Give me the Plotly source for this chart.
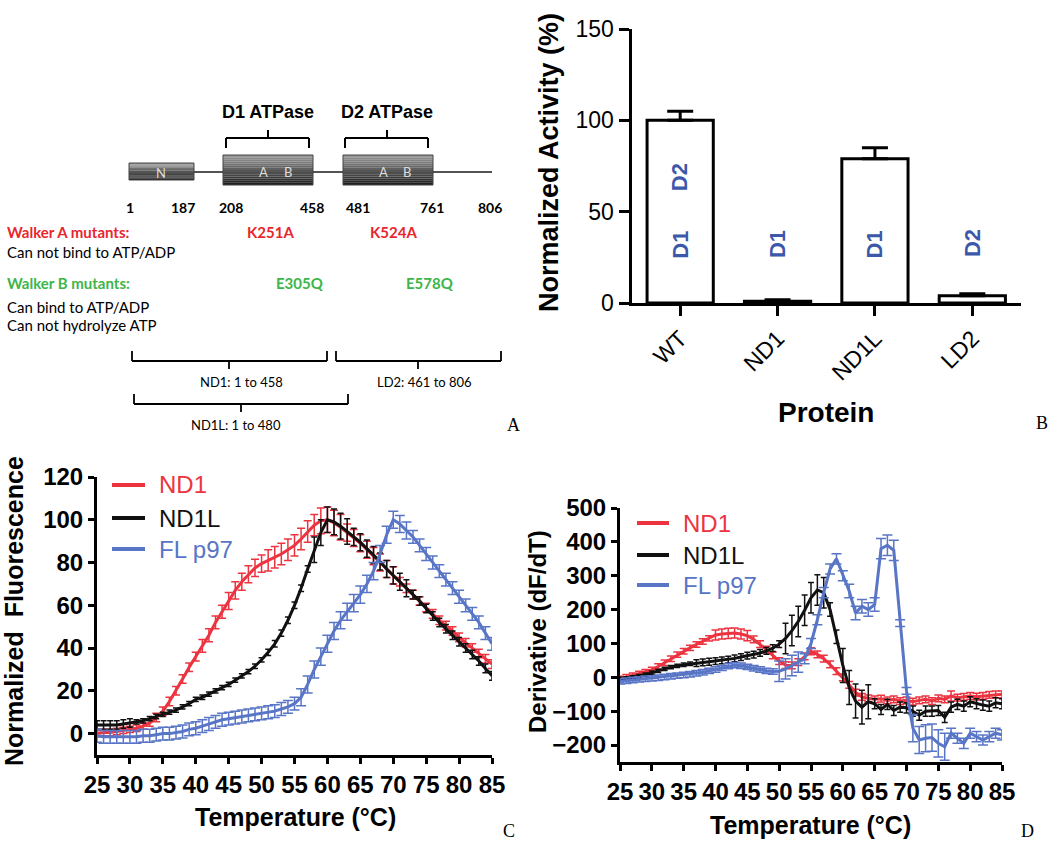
import plotly.graph_objects as go

W, H = 1050, 844
def X(p):
    return p / W
def Y(p):
    return 1 - p / H

RED = "#EC3441"
BLACK = "#111111"
BLUE = "#5875C6"
LBL_BLUE = "#3B58AA"
SANS = "Liberation Sans, Arial, sans-serif"
CAL = "Lato, Liberation Sans, sans-serif"
SERIF = "Liberation Serif, Times New Roman, serif"

proteins = ["WT", "ND1", "ND1L", "LD2"]
activity = [100, 1, 79, 4]
activity_err_up = [5, 0.8, 6, 1]
activity_err_down = [0, 0, 0, 0]
domain_labels = [["D1", "D2"], ["D1"], ["D1"], ["D2"]]
domain_label_y = [[32, 69], [32], [32], [33]]

temperature = [25, 26, 27, 28, 29, 30, 31, 32, 33, 34, 35, 36, 37, 38, 39, 40,
               41, 42, 43, 44, 45, 46, 47, 48, 49, 50, 51, 52, 53, 54, 55, 56,
               57, 58, 59, 60, 61, 62, 63, 64, 65, 66, 67, 68, 69, 70, 71, 72,
               73, 74, 75, 76, 77, 78, 79, 80, 81, 82, 83, 84, 85]

fluor_nd1 = [0, 0.5, 0.5, 1, 1.5, 2, 2.5, 3.5, 5, 7.5,
             10.5, 15, 20, 25.5, 31, 36, 41, 46, 52, 57,
             62, 67, 71, 74.5, 77.5, 79.5, 81, 82.5, 84, 86,
             88, 91, 94.5, 97.5, 99.5, 100, 98.5, 96.5, 94, 91.5,
             89, 86, 83, 80, 77, 74, 71, 68, 65, 62,
             59, 56, 53, 50.5, 48, 45, 42.5, 40, 37.5, 35,
             32.5]
fluor_nd1_err = [1.5, 1.5, 1.5, 1.5, 1.5, 1.5, 1.5, 1.5, 1.5, 2,
                 2, 2, 2, 2, 2, 2, 3, 3, 3, 3,
                 4, 4, 4, 4, 4, 4, 5, 5, 5, 5,
                 5, 5, 5, 5, 6, 6, 6, 6, 4, 4,
                 4, 4, 4, 4, 4, 4, 2, 2, 2, 2,
                 2, 2, 2, 2, 2, 2, 2, 2, 2, 2,
                 2]
fluor_nd1l = [4, 4, 4, 4, 4.5, 5, 5.5, 6, 7, 8,
              9, 10, 11, 12.5, 14, 16, 17, 18.5, 20, 21.5,
              23, 25, 27, 29, 31.5, 34.5, 38, 42, 47, 53,
              60, 68, 77, 86, 94, 100, 99, 97, 94.5, 92,
              89.5, 86.5, 83.5, 80.5, 77, 74, 71, 68, 65, 62,
              58.5, 55, 52, 49, 46, 43, 40, 37, 34, 30.5,
              27]
fluor_nd1l_err = [2, 2, 2, 2, 2, 2, 1, 1, 1, 1,
                  1, 1, 1, 1, 1, 1, 1, 1, 1, 1,
                  1, 1, 1, 1, 1, 1, 1.5, 1.5, 1.5, 1.5,
                  1.5, 1.5, 1.5, 6, 6, 6, 6, 6, 6, 4,
                  4, 4, 4, 4, 4, 4, 4, 4, 2, 2,
                  2, 2, 2, 2, 2, 2, 2, 2, 2, 2,
                  2]
fluor_fl = [-1, -1.5, -1.5, -1.5, -1.5, -1.5, -1.5, -1, -1, -0.5,
            0, 0, 0.5, 1, 2, 2.5, 3.5, 4.5, 5.5, 6.5,
            7, 7.5, 8, 8.5, 9, 9.5, 10, 10.5, 11.5, 12.5,
            14, 17, 23, 30, 36, 42, 48, 53, 57, 61,
            65, 70, 76, 84, 93, 100, 98, 95, 92, 88,
            84, 80, 76, 72, 68, 64, 60, 56, 52, 47,
            42]
fluor_fl_err = [3, 3, 3, 3, 3, 3, 3, 3, 3, 3,
                3, 3, 3, 3, 3, 3, 3, 3, 3, 3,
                3, 3, 3, 3, 3, 3, 3, 3, 3, 3,
                3, 4, 4, 4, 4, 4, 4, 4, 4, 4,
                4, 4, 4, 4, 4, 4, 4, 4, 3, 3,
                3, 3, 3, 3, 3, 3, 3, 3, 3, 3,
                3]

deriv_nd1 = [-5, 0, 5, 10, 15, 22, 32, 43, 55, 67,
             77, 87, 97, 106, 115, 125, 128, 130, 131, 128,
             123, 112, 98, 82, 65, 48, 36, 35, 45, 62,
             77, 68, 55, 38, 18, 0, -22, -45, -58, -62,
             -65, -63, -68, -65, -70, -68, -72, -68, -65, -70,
             -62, -65, -55, -60, -58, -55, -57, -55, -52, -50,
             -50]
deriv_nd1_err = [8, 8, 8, 8, 8, 8, 8, 8, 8, 8,
                 8, 8, 8, 8, 8, 15, 15, 15, 15, 15,
                 15, 10, 10, 10, 10, 10, 10, 10, 10, 10,
                 10, 10, 10, 10, 10, 10, 10, 10, 10, 10,
                 10, 10, 10, 10, 10, 10, 10, 10, 10, 10,
                 10, 10, 15, 10, 10, 10, 10, 10, 10, 10,
                 10]
deriv_nd1l = [-5, -3, 0, 3, 8, 14, 19, 25, 30, 34,
              37, 40, 42, 44, 46, 48, 50, 52, 56, 60,
              64, 67, 72, 78, 86, 98, 115, 138, 165, 198,
              235, 258, 250, 200, 120, 35, -30, -70, -88, -72,
              -78, -95, -80, -98, -88, -90, -100, -112, -100, -100,
              -98, -118, -88, -80, -85, -72, -78, -82, -85, -75,
              -78]
deriv_nd1l_err = [5, 5, 5, 5, 5, 5, 5, 5, 5, 5,
                  5, 5, 10, 10, 10, 10, 10, 10, 10, 10,
                  10, 10, 10, 10, 10, 10, 45, 45, 45, 45,
                  45, 45, 45, 20, 20, 50, 50, 50, 50, 50,
                  15, 15, 15, 15, 15, 15, 15, 15, 15, 15,
                  15, 15, 15, 15, 15, 15, 15, 15, 15, 15,
                  15]
deriv_fl = [-12, -10, -8, -6, -4, -3, -1, 1, 3, 5,
            7, 9, 12, 15, 19, 23, 28, 33, 36, 34,
            31, 27, 23, 19, 17, 18, 25, 35, 45, 55,
            100, 170, 250, 320, 350, 300, 255, 190, 210, 200,
            215, 380, 390, 375, 160, -40, -150, -185, -180, -178,
            -195, -205, -165, -180, -195, -165, -175, -185, -175, -165,
            -170]
deriv_fl_err = [8, 8, 8, 8, 8, 8, 8, 8, 8, 8,
                8, 8, 8, 8, 8, 8, 8, 8, 8, 8,
                8, 8, 8, 8, 8, 30, 30, 30, 30, 15,
                15, 15, 15, 15, 15, 15, 20, 20, 20, 20,
                20, 30, 30, 30, 10, 10, 40, 40, 40, 40,
                40, 40, 15, 15, 15, 15, 15, 15, 15, 15,
                15]

series_names = ["ND1", "ND1L", "FL p97"]
series_colors = [RED, BLACK, BLUE]

residue_numbers = ["1", "187", "208", "458", "481", "761", "806"]
domain_titles = ["D1 ATPase", "D2 ATPase"]
walker_a = ["K251A", "K524A"]
walker_b = ["E305Q", "E578Q"]
construct_labels = ["ND1: 1 to 458", "LD2: 461 to 806", "ND1L: 1 to 480"]

fig = go.Figure()

fig.add_trace(go.Bar(
    x=proteins, y=activity, width=0.68,
    marker=dict(color="white", line=dict(color="black", width=3)),
    error_y=dict(type="data", array=activity_err_up, arrayminus=activity_err_down,
                 symmetric=False, color="black", thickness=3, width=13),
    xaxis="x", yaxis="y", showlegend=False, cliponaxis=False,
))

c_vals = [fluor_nd1, fluor_nd1l, fluor_fl]
c_errs = [fluor_nd1_err, fluor_nd1l_err, fluor_fl_err]
d_vals = [deriv_nd1, deriv_nd1l, deriv_fl]
d_errs = [deriv_nd1_err, deriv_nd1l_err, deriv_fl_err]
cap_w = [4, 3, 5]
for i in range(3):
    fig.add_trace(go.Scatter(
        x=temperature, y=c_vals[i], mode="lines", name=series_names[i],
        line=dict(color=series_colors[i], width=3),
        error_y=dict(type="data", array=c_errs[i], color=series_colors[i],
                     thickness=1.5, width=cap_w[i]),
        xaxis="x2", yaxis="y2", showlegend=False,
    ))
for i in range(3):
    fig.add_trace(go.Scatter(
        x=temperature, y=d_vals[i], mode="lines", name=series_names[i],
        line=dict(color=series_colors[i], width=3),
        error_y=dict(type="data", array=d_errs[i], color=series_colors[i],
                     thickness=1.5, width=cap_w[i]),
        xaxis="x3", yaxis="y3", showlegend=False,
    ))

ax_common = dict(showgrid=False, zeroline=False, showline=True, linecolor="black",
                 linewidth=3, ticks="outside", tickcolor="black", tickwidth=3,
                 automargin=False)

fig.update_layout(
    template="none",
    autosize=False,
    width=W, height=H, margin=dict(l=0, r=0, t=0, b=0, pad=0, autoexpand=False),
    paper_bgcolor="white", plot_bgcolor="white",
    font=dict(family=SANS, color="black"),
    xaxis=dict(domain=[X(631.5), X(1021)], range=[-0.5, 3.5], type="category",
               anchor="y", ticklen=10, tickangle=-45,
               tickfont=dict(size=23, family=SANS), **ax_common),
    yaxis=dict(domain=[Y(303), Y(29)], range=[0, 150], tickvals=[0, 50, 100, 150],
               anchor="x", ticklen=10, tickfont=dict(size=23, family=SANS), **ax_common),
    xaxis2=dict(domain=[X(97), X(492)], range=[25, 85], dtick=5, tick0=25,
                anchor="y2", ticklen=6, ticklabelstandoff=0,
                tickfont=dict(size=24, family=SANS, weight="bold"), **ax_common),
    yaxis2=dict(domain=[Y(755), Y(477)], range=[-10, 120],
                tickvals=[0, 20, 40, 60, 80, 100, 120],
                anchor="x2", ticklen=6, ticklabelstandoff=0,
                tickfont=dict(size=24, family=SANS, weight="bold"), **ax_common),
    xaxis3=dict(domain=[X(620), X(1002)], range=[25, 85], dtick=5, tick0=25,
                anchor="y3", ticklen=6, ticklabelstandoff=0,
                tickfont=dict(size=24, family=SANS, weight="bold"), **ax_common),
    yaxis3=dict(domain=[Y(762), Y(508)], range=[-250, 500],
                tickvals=[-200, -100, 0, 100, 200, 300, 400, 500],
                anchor="x3", ticklen=6, ticklabelstandoff=0,
                tickfont=dict(size=24, family=SANS, weight="bold"), **ax_common),
)

ann = []
shapes = []

def text(x, y, s, size, color="black", bold=False, family=SANS, xanchor="center",
         angle=0):
    ann.append(dict(x=X(x), y=Y(y), xref="paper", yref="paper", text=s,
                    showarrow=False, xanchor=xanchor, yanchor="middle",
                    textangle=angle, borderpad=0,
                    font=dict(size=size, color=color, family=family,
                              weight="bold" if bold else "normal")))

def seg(x0, y0, x1, y1, color="black", width=2):
    shapes.append(dict(type="line", xref="paper", yref="paper",
                       x0=X(x0), y0=Y(y0), x1=X(x1), y1=Y(y1),
                       line=dict(color=color, width=width)))

for i, labs in enumerate(domain_labels):
    for lab, yy in zip(labs, domain_label_y[i]):
        ann.append(dict(x=proteins[i], y=yy, xref="x", yref="y", text=lab,
                        showarrow=False, textangle=-90,
                        font=dict(size=22, color=LBL_BLUE, family=SANS, weight="bold")))
text(549, 163, "Normalized Activity (%)", 27, bold=True, angle=-90)
text(826, 412, "Protein", 28, bold=True)

text(14, 611, "Normalized  Fluorescence", 25, bold=True, angle=-90)
text(295, 817, "Temperature (°C)", 25, bold=True)
leg_c_y = [485, 518, 549]
for i in range(3):
    seg(112, leg_c_y[i], 145, leg_c_y[i], series_colors[i], 4)
    text(158, leg_c_y[i], series_names[i], 24, color=series_colors[i], xanchor="left")

text(537, 632, "Derivative (dF/dT)", 24, bold=True, angle=-90)
text(810, 825, "Temperature (°C)", 25, bold=True)
leg_d_y = [523, 555, 585]
for i in range(3):
    seg(637, leg_d_y[i], 669, leg_d_y[i], series_colors[i], 4)
    text(682, leg_d_y[i], series_names[i], 24, color=series_colors[i], xanchor="left")

text(513, 425, "A", 18, family=SERIF)
text(1042, 423, "B", 18, family=SERIF)
text(509, 831, "C", 18, family=SERIF)
text(1027, 831, "D", 18, family=SERIF)

seg(129, 172, 492, 172, "#1a1a1a", 1.5)
boxes = [(129, 194, 163, 180), (223, 313, 155, 185), (343, 433, 155, 185)]
for (x0, x1, y0, y1) in boxes:
    n = 14
    for k in range(n):
        t = k / (n - 1)
        g = int(150 - 118 * t)
        ya = y0 + (y1 - y0) * k / n
        yb = y0 + (y1 - y0) * (k + 1) / n
        shapes.append(dict(type="rect", xref="paper", yref="paper",
                           x0=X(x0), x1=X(x1), y0=Y(yb), y1=Y(ya),
                           fillcolor=f"rgb({g},{g},{g})", line=dict(width=0)))
    shapes.append(dict(type="rect", xref="paper", yref="paper",
                       x0=X(x0), x1=X(x1), y0=Y(y1), y1=Y(y0),
                       fillcolor="rgba(0,0,0,0)", line=dict(color="#444", width=1)))
text(161, 173, "N", 13, color="#dddddd", family=CAL)
for bx in (263, 383):
    text(bx, 172, "A", 13, color="#dddddd", family=CAL)
for bx in (288, 407):
    text(bx, 172, "B", 13, color="#dddddd", family=CAL)

for (xa, xb, xc), title in zip([(226, 309, 268), (345, 428, 387)], domain_titles):
    seg(xa, 138, xb, 138, "black", 2)
    seg(xa, 138, xa, 148, "black", 2)
    seg(xb, 138, xb, 148, "black", 2)
    seg(xc, 138, xc, 130, "black", 2)
    text(xc, 112, title, 18, bold=True)

for s, xx in zip(residue_numbers, [130, 183, 231, 312, 358, 432, 490]):
    text(xx, 207, s, 14, bold=True, family=CAL)

text(6, 232, "Walker A mutants:", 15, color="#E8262E", bold=True, family=CAL, xanchor="left")
for s, xx in zip(walker_a, [270, 393]):
    text(xx, 232, s, 15, color="#E8262E", bold=True, family=CAL)
text(6, 252, "Can not bind to ATP/ADP", 15, family=CAL, xanchor="left")
text(6, 283, "Walker B mutants:", 15, color="#3DB54A", bold=True, family=CAL, xanchor="left")
for s, xx in zip(walker_b, [300, 430]):
    text(xx, 283, s, 15, color="#3DB54A", bold=True, family=CAL)
text(6, 307, "Can bind to ATP/ADP", 15, family=CAL, xanchor="left")
text(6, 325, "Can not hydrolyze ATP", 15, family=CAL, xanchor="left")

bottom = [(132, 327, 229, 351, 361, 369, 241, 382),
          (336, 501, 418, 351, 361, 369, 424, 382),
          (134, 348, 241, 394, 404, 412, 236, 425)]
for (xa, xb, xc, ytop, yh, ytick, lx, ly), lab in zip(bottom, construct_labels):
    seg(xa, ytop, xa, yh, "black", 1.8)
    seg(xb, ytop, xb, yh, "black", 1.8)
    seg(xa, yh, xb, yh, "black", 1.8)
    seg(xc, yh, xc, ytick, "black", 1.8)
    text(lx, ly, lab, 13, family=CAL)

fig.update_layout(annotations=ann, shapes=shapes)
fig.write_html("out.html", config={"displayModeBar": False},
               post_script="document.body.style.margin='0px';")
